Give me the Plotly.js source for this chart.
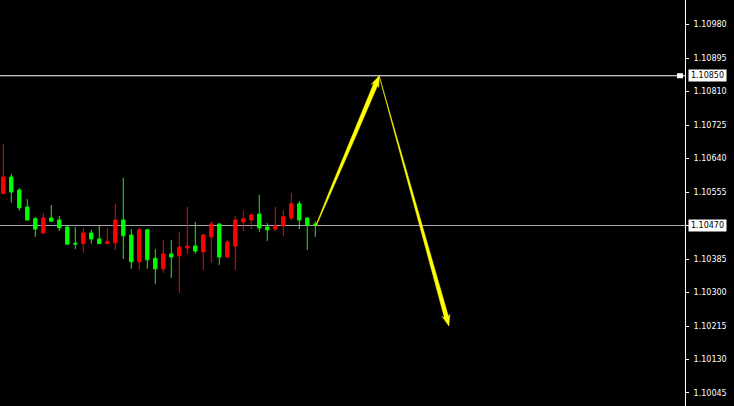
<!DOCTYPE html>
<html>
<head>
<meta charset="utf-8">
<script src="https://cdn.plot.ly/plotly-3.0.1.min.js"></script>
<style>
html,body{margin:0;padding:0;background:#000;}
#chart{width:734px;height:406px;}
</style>
</head>
<body>
<div id="chart"></div>
<script>
// ---- data ----
const candleIndex = Array.from({length: 40}, (_, i) => i);
const openPrices  = [1.10551,1.10593,1.10560,1.10517,1.10487,1.10451,1.10489,1.10484,1.10466,1.10425,
                     1.10424,1.10451,1.10436,1.10424,1.10426,1.10484,1.10446,1.10378,1.10459,1.10387,
                     1.10360,1.10398,1.10393,1.10413,1.10418,1.10403,1.10441,1.10474,1.10390,1.10418,
                     1.10479,1.10484,1.10499,1.10466,1.10461,1.10469,1.10489,1.10525,1.10489,1.10474];
const highPrices  = [1.10677,1.10601,1.10565,1.10537,1.10492,1.10502,1.10522,1.10494,1.10469,1.10466,
                     1.10464,1.10459,1.10469,1.10464,1.10525,1.10591,1.10461,1.10464,1.10461,1.10410,
                     1.10433,1.10433,1.10454,1.10517,1.10479,1.10448,1.10481,1.10475,1.10433,1.10494,
                     1.10507,1.10499,1.10548,1.10476,1.10517,1.10509,1.10553,1.10532,1.10490,1.10481];
const lowPrices   = [1.10550,1.10528,1.10508,1.10483,1.10441,1.10450,1.10479,1.10456,1.10420,1.10410,
                     1.10401,1.10424,1.10423,1.10423,1.10408,1.10385,1.10360,1.10358,1.10360,1.10321,
                     1.10350,1.10337,1.10299,1.10398,1.10398,1.10357,1.10375,1.10370,1.10389,1.10357,
                     1.10456,1.10461,1.10454,1.10431,1.10456,1.10443,1.10484,1.10461,1.10408,1.10441];
const closePrices = [1.10593,1.10555,1.10515,1.10484,1.10461,1.10489,1.10481,1.10464,1.10423,1.10423,
                     1.10451,1.10436,1.10424,1.10429,1.10484,1.10444,1.10378,1.10459,1.10383,1.10360,
                     1.10398,1.10390,1.10415,1.10418,1.10405,1.10446,1.10474,1.10390,1.10428,1.10484,
                     1.10487,1.10497,1.10464,1.10459,1.10469,1.10492,1.10525,1.10484,1.10471,1.10471];
const tickValues  = [1.10045,1.10130,1.10215,1.10300,1.10385,1.10470,1.10555,1.10640,1.10725,1.10810,1.10895,1.10980];
const tickLabels  = ["1.10045","1.10130","1.10215","1.10300","1.10385","","1.10555","1.10640","1.10725","1.10810","1.10895","1.10980"];
const levelPrices = [1.10850, 1.10470];
const levelLabels = ["1.10850", "1.10470"];
const arrowX = [39.1, 47.0, 55.7];
const arrowY = [1.10470, 1.10850, 1.10215];

// ---- geometry (layout) ----
const W = 734, H = 406, mL = 0, mR = 49, mT = 0, mB = 0;
const xRange = [-0.4125, 85.2125];
const yRange = [1.10012, 1.110422];
const pw = W - mL - mR, ph = H - mT - mB;
const px = x => (x - xRange[0]) / (xRange[1] - xRange[0]) * pw;
const py = y => (yRange[1] - y) / (yRange[1] - yRange[0]) * ph;
const dx = p => xRange[0] + p / pw * (xRange[1] - xRange[0]);
const dy = p => yRange[1] - p / ph * (yRange[1] - yRange[0]);

// profile: list of [fraction of shaft length, width px]
function taperArrow(x0, y0, x1, y1, profile, headW, headL) {
  const ax = px(x0), ay = py(y0), bx = px(x1), by = py(y1);
  const L = Math.hypot(bx - ax, by - ay);
  const ux = (bx - ax) / L, uy = (by - ay) / L;
  const nx = -uy, ny = ux;
  const shaft = L - headL + 2;
  const left = [], right = [];
  profile.forEach(([t, w]) => {
    const cx = ax + ux * shaft * t, cy = ay + uy * shaft * t;
    left.push([cx + nx * w / 2, cy + ny * w / 2]);
    right.push([cx - nx * w / 2, cy - ny * w / 2]);
  });
  const hx = bx - ux * headL, hy = by - uy * headL;
  const pts = left.concat([
    [hx + nx * headW / 2, hy + ny * headW / 2],
    [bx, by],
    [hx - nx * headW / 2, hy - ny * headW / 2]
  ]).concat(right.reverse());
  pts.push(pts[0]);
  return {
    type: 'scatter', mode: 'lines', fill: 'toself',
    x: pts.map(p => dx(p[0])), y: pts.map(p => dy(p[1])),
    line: {width: 0.5, color: '#ffff00'}, fillcolor: '#ffff00',
    hoverinfo: 'skip', showlegend: false
  };
}

const traces = [
  {
    type: 'candlestick',
    x: candleIndex, open: openPrices, high: highPrices, low: lowPrices, close: closePrices,
    increasing: {line: {color: '#ff0000', width: 1}, fillcolor: '#ff0000'},
    decreasing: {line: {color: '#00ff00', width: 1}, fillcolor: '#00ff00'},
    whiskerwidth: 0,
    hoverinfo: 'skip', showlegend: false
  },
  taperArrow(arrowX[0], arrowY[0], arrowX[1], arrowY[1],
             [[0, 0.6], [0.25, 2.2], [0.6, 3.6], [1, 4.4]], 8, 11),
  taperArrow(arrowX[1], arrowY[1], arrowX[2], arrowY[2],
             [[0, 0.3], [0.45, 1.0], [0.6, 2.6], [1, 4.2]], 8, 11)
];

const shapes = [
  {type: 'line', xref: 'paper', yref: 'y', x0: 0, x1: 1, y0: levelPrices[0], y1: levelPrices[0],
   line: {color: '#ffffff', width: 1}, layer: 'below'},
  {type: 'line', xref: 'paper', yref: 'y', x0: 0, x1: 1, y0: levelPrices[1], y1: levelPrices[1],
   line: {color: '#a3a8b0', width: 1}, layer: 'below'},
  {type: 'rect', xref: 'paper', yref: 'y', x0: 677 / pw, x1: 683 / pw,
   y0: dy(py(levelPrices[0]) + 2.5), y1: dy(py(levelPrices[0]) - 2.5),
   fillcolor: '#ffffff', line: {width: 0}}
];

const annotations = levelPrices.map((p, i) => ({
  xref: 'paper', yref: 'y', x: 1, y: p, xanchor: 'left', yanchor: 'middle',
  xshift: 3, showarrow: false, text: levelLabels[i],
  font: {family: 'DejaVu Sans', size: 8, color: '#000000'},
  bgcolor: '#ffffff', borderpad: 1, width: 35, align: 'center'
}));

const layout = {
  width: W, height: H,
  margin: {l: mL, r: mR, t: mT, b: mB, pad: 0},
  paper_bgcolor: '#000000', plot_bgcolor: '#000000',
  showlegend: false,
  boxgap: 0.4,
  xaxis: {range: xRange, showgrid: false, zeroline: false, showline: false,
          showticklabels: false, ticks: '', rangeslider: {visible: false}, fixedrange: true},
  yaxis: {range: yRange, side: 'right', showgrid: false, zeroline: false,
          showline: true, linecolor: '#ffffff', linewidth: 1, mirror: false,
          ticks: 'outside', ticklen: 3, tickcolor: '#ffffff', tickwidth: 1,
          tickmode: 'array', tickvals: tickValues, ticktext: tickLabels,
          tickfont: {family: 'DejaVu Sans', size: 8, color: '#ffffff'},
          ticklabelstandoff: 3, fixedrange: true},
  shapes: shapes,
  annotations: annotations
};

Plotly.newPlot('chart', traces, layout, {staticPlot: true, displayModeBar: false});
</script>
</body>
</html>
